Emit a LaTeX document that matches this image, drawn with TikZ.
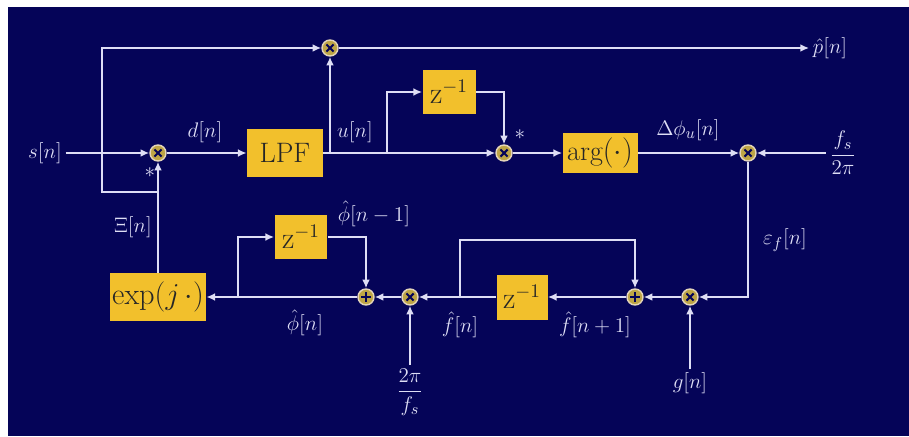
\documentclass[tikz,border=0pt]{standalone}
\usetikzlibrary{arrows.meta, positioning}

\definecolor{navybg}{RGB}{5,4,88}
\definecolor{boxgold}{RGB}{242,192,44}
\definecolor{wirecol}{RGB}{222,222,245}
\definecolor{knotfill}{RGB}{190,165,70}

\begin{document}
\begin{tikzpicture}[
    x=0.02cm, y=-0.02cm,
    block/.style={fill=boxgold, text=black!85, inner sep=1pt,
                  font=\fontsize{16}{18}\selectfont},
    knot/.style={circle, draw=wirecol!70!boxgold, fill=knotfill, line width=0.8pt,
                 minimum size=0.32cm, inner sep=0pt},
    mult/.style={knot, path picture={
        \draw[navybg, line width=1.2pt]
          ([shift={(-2pt,-2pt)}]path picture bounding box.center) -- ([shift={(2pt,2pt)}]path picture bounding box.center)
          ([shift={(-2pt,2pt)}]path picture bounding box.center) -- ([shift={(2pt,-2pt)}]path picture bounding box.center);}},
    adder/.style={knot, path picture={
        \draw[navybg, line width=1.2pt]
          ([shift={(-2.6pt,0pt)}]path picture bounding box.center) -- ([shift={(2.6pt,0pt)}]path picture bounding box.center)
          ([shift={(0pt,-2.6pt)}]path picture bounding box.center) -- ([shift={(0pt,2.6pt)}]path picture bounding box.center);}},
    sig/.style={text=wirecol, font=\fontsize{13}{15}\selectfont, inner sep=2pt},
    wire/.style={draw=wirecol, line width=1.1pt},
    >={Latex[length=5pt,width=4.5pt]}
  ]
    \useasboundingbox (0,0) rectangle (909,436);
    \fill[white] (0,0) rectangle (909,436);
    \fill[navybg] (8,7) rectangle (909,436);

    % blocks
    \node[block, minimum width=1.52cm, minimum height=0.98cm] (lpf) at (285,153) {LPF};
    \node[block, minimum width=1.06cm, minimum height=0.9cm] (zu) at (449,92) {$\mathrm{z}^{-1}$};
    \node[block, minimum width=1.5cm, minimum height=0.82cm] (arg) at (600,153) {arg$(\cdot)$};
    \node[block, minimum width=1.92cm, minimum height=0.96cm] (expj) at (158,297) {$\exp(j\,\cdot)$};
    \node[block, minimum width=1.06cm, minimum height=0.9cm] (zphi) at (301,237) {$\mathrm{z}^{-1}$};
    \node[block, minimum width=1.02cm, minimum height=0.9cm] (zf) at (522,297) {$\mathrm{z}^{-1}$};

    % multipliers and adders
    \node[mult] (mix) at (158,153) {};
    \node[mult] (mp) at (330,48) {};
    \node[mult] (mdiff) at (504,153) {};
    \node[mult] (mscale) at (748,153) {};
    \node[mult] (mg) at (690,297) {};
    \node[adder] (af) at (635,297) {};
    \node[mult] (mfs) at (410,297) {};
    \node[adder] (aphi) at (366,297) {};

    % junctions
    \coordinate (ju) at (330,153);
    \coordinate (jz) at (387,153);
    \coordinate (jphi) at (238,297);
    \coordinate (jf) at (460,297);
    \coordinate (jf2) at (460,240);
    \coordinate (jxi) at (158,192);
    \coordinate (jxl) at (102,192);

    % signals
    \node[sig] (sn) at (45,153) {$s[n]$};
    \node[sig] (dn) at (205,132) {$d[n]$};
    \node[sig] (un) at (355,132) {$u[n]$};
    \node[sig] (dphi) at (688,130) {$\Delta\phi_u[n]$};
    \node[sig] (fsc) at (843,153) {$\displaystyle\frac{f_s}{2\pi}$};
    \node[sig] (epsf) at (785,240) {$\varepsilon_f[n]$};
    \node[sig] (gn) at (690,383) {$g[n]$};
    \node[sig] (fn) at (460,325) {$\hat{f}[n]$};
    \node[sig] (fn1) at (595,325) {$\hat{f}[n+1]$};
    \node[sig] (tpf) at (410,392) {$\displaystyle\frac{2\pi}{f_s}$};
    \node[sig] (phin) at (305,323) {$\hat{\phi}[n]$};
    \node[sig] (phin1) at (374,214) {$\hat{\phi}[n-1]$};
    \node[sig] (xin) at (133,227) {$\Xi[n]$};
    \node[sig] (pn) at (830,48) {$\hat{p}[n]$};
    \node[sig] (cjx) at (150,173) {$*$};
    \node[sig] (cjd) at (520,135) {$*$};

    % connectors
    \draw[wire, ->] (sn) -- (mix);
    \draw[wire, ->] (mix) -- (lpf);
    \draw[wire, ->] (lpf) -- (mdiff);
    \draw[wire, ->] (ju) -- (mp);
    \draw[wire, ->] (jz) |- (zu);
    \draw[wire, ->] (zu) -| (mdiff);
    \draw[wire, ->] (mdiff) -- (arg);
    \draw[wire, ->] (arg) -- (mscale);
    \draw[wire, ->] (fsc) -- (mscale);
    \draw[wire, ->] (mscale) |- (mg);
    \draw[wire, ->] (gn) -- (mg);
    \draw[wire, ->] (mg) -- (af);
    \draw[wire, ->] (af) -- (zf);
    \draw[wire, ->] (zf) -- (mfs);
    \draw[wire, ->] (jf) -- (jf2) -| (af);
    \draw[wire, ->] (tpf) -- (mfs);
    \draw[wire, ->] (mfs) -- (aphi);
    \draw[wire, ->] (aphi) -- (expj);
    \draw[wire, ->] (jphi) |- (zphi);
    \draw[wire, ->] (zphi) -| (aphi);
    \draw[wire, ->] (expj) -- (mix);
    \draw[wire, ->] (jxi) -- (jxl) |- (mp);
    \draw[wire, ->] (mp) -- (pn);
  \end{tikzpicture}
\end{document}
